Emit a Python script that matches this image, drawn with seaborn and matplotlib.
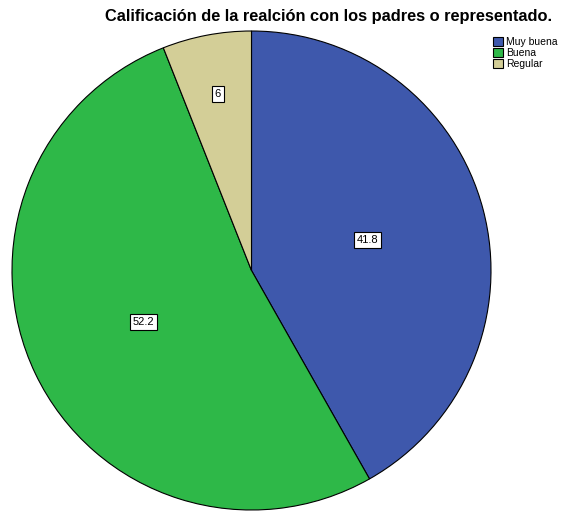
import numpy as np
import matplotlib
matplotlib.use("Agg")
import matplotlib.pyplot as plt
import seaborn as sns

categories = ["Muy buena", "Buena", "Regular"]
values = [41.8, 52.2, 6.0]
value_labels = ["41.8", "52.2", "6"]
colors = ["#3E58AC", "#2EB848", "#D3CE97"]

sns.set_style("white")
plt.rcParams['font.family'] = ['Liberation Sans', 'DejaVu Sans']
plt.rcParams['text.color'] = 'black'

fig = plt.figure(figsize=(5.63, 5.11), dpi=100)
W, H = 563, 511
cx, cy, r = 251.5, 270.5, 239.5
ax = fig.add_axes([(cx - r) / W, (H - cy - r) / H, 2 * r / W, 2 * r / H])

wedges, _ = ax.pie(values, colors=colors, startangle=90, counterclock=False,
                   wedgeprops=dict(edgecolor="black", linewidth=0.8))
ax.set_xlim(-1, 1)
ax.set_ylim(-1, 1)
ax.set_aspect("equal")
ax.axis("off")

# SPSS puts the small slice label further out
dists = [0.5, 0.5, 0.75]
for w, lab, d in zip(wedges, value_labels, dists):
    ang = np.deg2rad((w.theta1 + w.theta2) / 2)
    ax.text(d * np.cos(ang), d * np.sin(ang), lab, ha="center", va="center", fontsize=8,
            color="black",
            bbox=dict(boxstyle="square,pad=0.25", fc="white", ec="black", lw=0.8))

fig.text(329 / W, 1 - 17 / H, "Calificación de la realción con los padres o representado.",
         ha="center", va="center", fontsize=11.8, fontweight="bold", color="black")

fig.legend(wedges, categories, loc="upper left", bbox_to_anchor=(486 / W, 1 - 30 / H),
           frameon=False, fontsize=7.5, handlelength=0.9, handleheight=0.9,
           handletextpad=0.3, labelspacing=0.1, borderpad=0.2, labelcolor="black")

fig.savefig("out.png", dpi=100)
